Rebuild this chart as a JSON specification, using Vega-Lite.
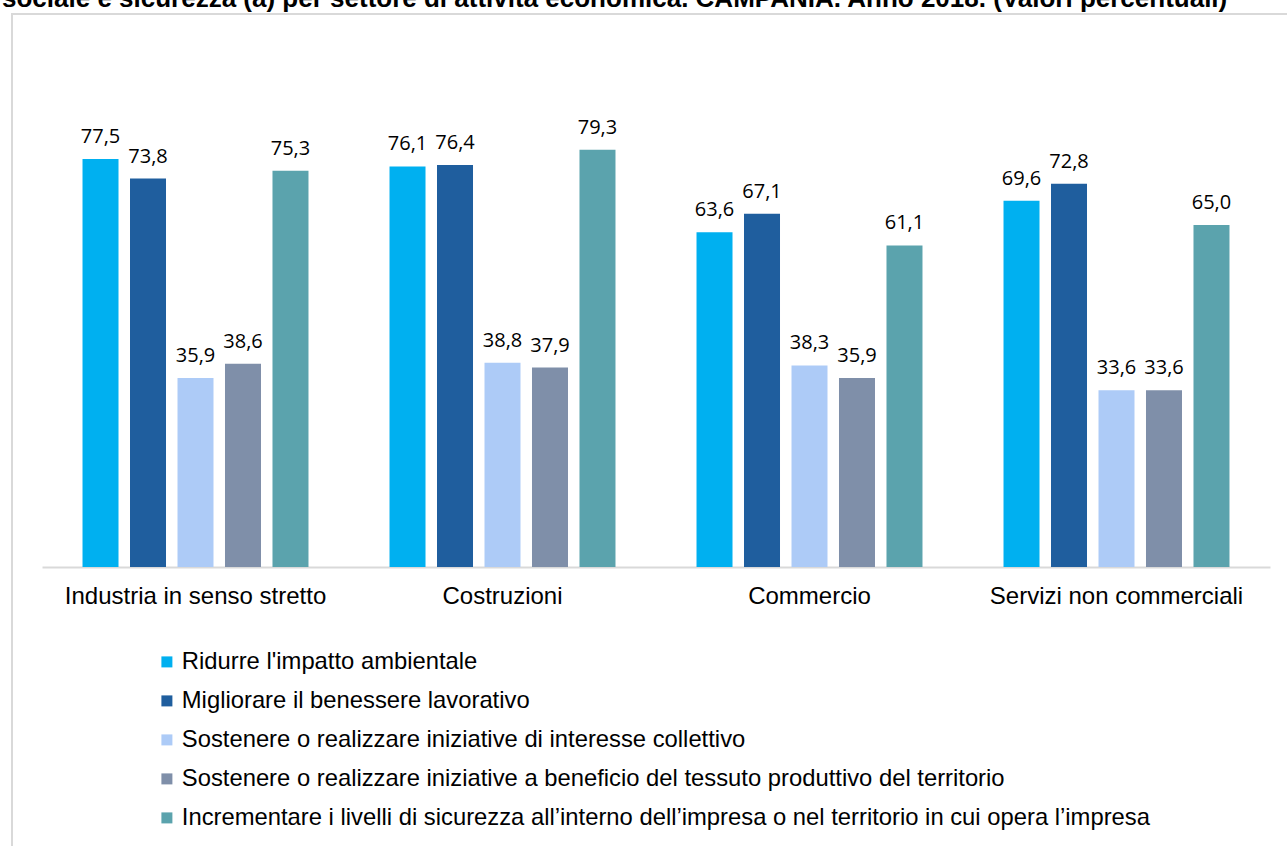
{
  "$schema": "https://vega.github.io/schema/vega-lite/v6.json",
  "autosize": {"type": "none"},
  "width": 1290,
  "height": 840,
  "padding": {"left": 12, "top": 14, "right": 0, "bottom": 0},
  "background": "white",
  "config": {
    "locale": {"number": {"decimal": ",", "thousands": ".", "grouping": [3], "currency": ["", " €"]}},
    "view": {"stroke": "#d9d9d9", "strokeWidth": 2},
    "font": "Liberation Sans"
  },
  "title": {
    "text": "sociale e sicurezza (a) per settore di attività economica. CAMPANIA. Anno 2018. (Valori percentuali)",
    "anchor": "start",
    "frame": "group",
    "fontSize": 26,
    "fontWeight": "bold",
    "color": "#000000",
    "font": "Liberation Sans",
    "dx": -10,
    "offset": 2
  },
  "data": {
    "values": [
      {"settore": "Industria in senso stretto", "indicatore": "Ridurre l'impatto ambientale", "valore": 77.5},
      {"settore": "Industria in senso stretto", "indicatore": "Migliorare il benessere lavorativo", "valore": 73.8},
      {"settore": "Industria in senso stretto", "indicatore": "Sostenere o realizzare iniziative di interesse collettivo", "valore": 35.9},
      {"settore": "Industria in senso stretto", "indicatore": "Sostenere o realizzare iniziative a beneficio del tessuto produttivo del territorio", "valore": 38.6},
      {"settore": "Industria in senso stretto", "indicatore": "Incrementare i livelli di sicurezza all’interno dell’impresa o nel territorio in cui opera l’impresa", "valore": 75.3},
      {"settore": "Costruzioni", "indicatore": "Ridurre l'impatto ambientale", "valore": 76.1},
      {"settore": "Costruzioni", "indicatore": "Migliorare il benessere lavorativo", "valore": 76.4},
      {"settore": "Costruzioni", "indicatore": "Sostenere o realizzare iniziative di interesse collettivo", "valore": 38.8},
      {"settore": "Costruzioni", "indicatore": "Sostenere o realizzare iniziative a beneficio del tessuto produttivo del territorio", "valore": 37.9},
      {"settore": "Costruzioni", "indicatore": "Incrementare i livelli di sicurezza all’interno dell’impresa o nel territorio in cui opera l’impresa", "valore": 79.3},
      {"settore": "Commercio", "indicatore": "Ridurre l'impatto ambientale", "valore": 63.6},
      {"settore": "Commercio", "indicatore": "Migliorare il benessere lavorativo", "valore": 67.1},
      {"settore": "Commercio", "indicatore": "Sostenere o realizzare iniziative di interesse collettivo", "valore": 38.3},
      {"settore": "Commercio", "indicatore": "Sostenere o realizzare iniziative a beneficio del tessuto produttivo del territorio", "valore": 35.9},
      {"settore": "Commercio", "indicatore": "Incrementare i livelli di sicurezza all’interno dell’impresa o nel territorio in cui opera l’impresa", "valore": 61.1},
      {"settore": "Servizi non commerciali", "indicatore": "Ridurre l'impatto ambientale", "valore": 69.6},
      {"settore": "Servizi non commerciali", "indicatore": "Migliorare il benessere lavorativo", "valore": 72.8},
      {"settore": "Servizi non commerciali", "indicatore": "Sostenere o realizzare iniziative di interesse collettivo", "valore": 33.6},
      {"settore": "Servizi non commerciali", "indicatore": "Sostenere o realizzare iniziative a beneficio del tessuto produttivo del territorio", "valore": 33.6},
      {"settore": "Servizi non commerciali", "indicatore": "Incrementare i livelli di sicurezza all’interno dell’impresa o nel territorio in cui opera l’impresa", "valore": 65.0}
    ]
  },
  "encoding": {
    "x": {
      "field": "settore",
      "type": "nominal",
      "sort": ["Industria in senso stretto", "Costruzioni", "Commercio", "Servizi non commerciali"],
      "scale": {"range": [30, 1258], "paddingInner": 0, "paddingOuter": 0},
      "axis": {
        "title": null,
        "orient": "bottom",
        "offset": -287,
        "domainColor": "#d9d9d9",
        "domainWidth": 2,
        "ticks": false,
        "labelFontSize": 24,
        "labelColor": "#000000",
        "labelPadding": 17,
        "labelFont": "Liberation Sans",
        "labelAngle": 0,
        "labelLimit": 500
      }
    },
    "xOffset": {
      "field": "indicatore",
      "type": "nominal",
      "sort": [
        "Ridurre l'impatto ambientale",
        "Migliorare il benessere lavorativo",
        "Sostenere o realizzare iniziative di interesse collettivo",
        "Sostenere o realizzare iniziative a beneficio del tessuto produttivo del territorio",
        "Incrementare i livelli di sicurezza all’interno dell’impresa o nel territorio in cui opera l’impresa"
      ],
      "scale": {"paddingInner": 0.242, "paddingOuter": 0.853}
    },
    "y": {
      "field": "valore",
      "type": "quantitative",
      "scale": {"domain": [-54.53, 105.07], "nice": false, "zero": false},
      "axis": null
    }
  },
  "layer": [
    {
      "mark": {"type": "bar"},
      "encoding": {
        "y2": {"datum": 0},
        "color": {
          "field": "indicatore",
          "type": "nominal",
          "sort": [
            "Ridurre l'impatto ambientale",
            "Migliorare il benessere lavorativo",
            "Sostenere o realizzare iniziative di interesse collettivo",
            "Sostenere o realizzare iniziative a beneficio del tessuto produttivo del territorio",
            "Incrementare i livelli di sicurezza all’interno dell’impresa o nel territorio in cui opera l’impresa"
          ],
          "scale": {"range": ["#00B0F0", "#1F5E9E", "#ADCBF7", "#7F8FA9", "#5BA3AD"]},
          "legend": {
            "title": null,
            "orient": "none",
            "legendX": 143,
            "legendY": 636,
            "direction": "vertical",
            "symbolType": "square",
            "symbolSize": 121,
            "symbolStrokeWidth": 0,
            "symbolOpacity": 1,
            "labelFontSize": 23.8,
            "labelFont": "Liberation Sans",
            "labelColor": "#000000",
            "labelOffset": 3,
            "rowPadding": 14,
            "labelLimit": 1200
          }
        }
      }
    },
    {
      "mark": {"type": "text", "baseline": "alphabetic", "dy": -16, "fontSize": 20, "font": "Open Sans", "color": "#000000"},
      "encoding": {
        "text": {"field": "valore", "type": "quantitative", "format": ".1f"}
      }
    }
  ]
}
